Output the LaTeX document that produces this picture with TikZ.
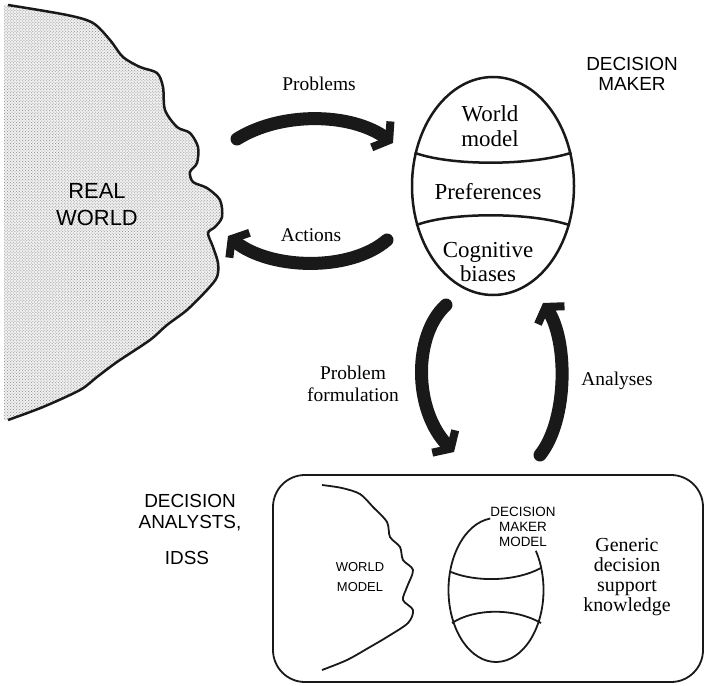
\documentclass[tikz,border=0pt]{standalone}
\usepackage{fontspec}
\setmainfont{Liberation Serif}
\setsansfont{Liberation Sans}
\usetikzlibrary{arrows.meta,shapes.geometric,patterns}
\begin{document}
\begin{tikzpicture}[x=1bp,y=-1bp,
  thickarrow/.style={draw=black!90, line width=13bp, line cap=round,
    -{Straight Barb[length=10bp,width=32bp,line width=8bp]}},
  serlab/.style={font=\fontsize{19.5}{22}\selectfont, align=center, inner sep=0pt},
  sertext/.style={font=\fontsize{23}{25}\selectfont, align=center, inner sep=0pt},
  sanslab/.style={font=\sffamily\fontsize{19}{21}\selectfont, align=center, inner sep=0pt},
  smallsans/.style={font=\sffamily\fontsize{13.5}{15}\selectfont, align=center, inner sep=0pt},
  outline/.style={draw=black!90, line width=2.5bp},
  thinline/.style={draw=black!90, line width=1.8bp}
]
\useasboundingbox (0,0) rectangle (708,686);

% ---------- REAL WORLD blob ----------
\fill[gray!12] (4,5) -- plot[smooth] coordinates {(8,5) (67,15) (93,23) (110,40) (123,57) (140,67) (157,73) (163,87) (165,110) (177,127) (190,133) (198,147) (197,163) (190,172) (193,182) (207,188) (220,200) (222,217) (215,227) (208,233) (213,247) (218,263) (217,277) (207,290) (187,310) (167,325) (150,340) (117,362) (97,377) (80,390) (43,407) (8,420)} -- (4,420) -- cycle;
\fill[pattern=crosshatch dots, pattern color=black!45] (4,5) -- plot[smooth] coordinates {(8,5) (67,15) (93,23) (110,40) (123,57) (140,67) (157,73) (163,87) (165,110) (177,127) (190,133) (198,147) (197,163) (190,172) (193,182) (207,188) (220,200) (222,217) (215,227) (208,233) (213,247) (218,263) (217,277) (207,290) (187,310) (167,325) (150,340) (117,362) (97,377) (80,390) (43,407) (8,420)} -- (4,420) -- cycle;
\draw[outline] plot[smooth] coordinates {(8,5) (67,15) (93,23) (110,40) (123,57) (140,67) (157,73) (163,87) (165,110) (177,127) (190,133) (198,147) (197,163) (190,172) (193,182) (207,188) (220,200) (222,217) (215,227) (208,233) (213,247) (218,263) (217,277) (207,290) (187,310) (167,325) (150,340) (117,362) (97,377) (80,390) (43,407) (8,420)};
\node[font=\sffamily\fontsize{22}{27}\selectfont, align=center, inner sep=0pt] (rw) at (97,205) {REAL\\WORLD};

% ---------- DECISION MAKER ----------
\node[sanslab, font=\sffamily\fontsize{19}{20}\selectfont] (dmtitle) at (632,74) {DECISION\\MAKER};
\node[ellipse, outline, minimum width=162bp, minimum height=218bp, inner sep=0pt] (dm) at (493,186) {};
\draw[outline] (dm.157) .. controls (450,166) and (530,166) .. (dm.23);
\draw[outline] (dm.207) .. controls (450,212) and (530,212) .. (dm.333);
\node[sertext] (wm) at (490,126) {World\\model};
\node[sertext] (pref) at (488,192) {Preferences};
\node[sertext] (cog) at (488,262) {Cognitive\\biases};

% ---------- arrows real world <-> decision maker ----------
\coordinate (pS) at (237,139);
\coordinate (pE) at (393,143);
\draw[thickarrow] (pS) .. controls (280,112) and (350,112) .. (pE);
\node[serlab] (problems) at (319,84) {Problems};

\coordinate (aS) at (387,240);
\coordinate (aE) at (228,236);
\draw[thickarrow] (aS) .. controls (350,272) and (270,270) .. (aE);
\node[serlab] (actions) at (311,235) {Actions};

% ---------- arrows decision maker <-> analysts ----------
\coordinate (fS) at (446,305);
\coordinate (fE) at (454,452);
\draw[thickarrow] (fS) .. controls (413,335) and (413,410) .. (fE);
\node[serlab] (pf) at (353,384) {Problem\\formulation};

\coordinate (nS) at (540,455);
\coordinate (nE) at (543,303);
\draw[thickarrow] (nS) .. controls (568,420) and (568,340) .. (nE);
\node[serlab] (an) at (617,381) {Analyses};

% ---------- DECISION ANALYSTS, IDSS ----------
\node[sanslab] (da) at (190,513) {DECISION\\ANALYSTS,};
\node[sanslab] (idss) at (187,558) {IDSS};

% ---------- bottom box ----------
\draw[thinline, rounded corners=32bp] (273,475) rectangle (703,682);

% world model line
\draw[thinline] plot[smooth] coordinates {(322,485) (342,488) (360,494) (373,507) (387,522) (390,537) (400,547) (403,560) (413,570) (407,587) (403,600) (413,610) (408,623) (387,637) (370,647) (347,660) (322,670)};
\node[smallsans, font=\sffamily\fontsize{13}{20}\selectfont] (wmodel) at (360,577) {WORLD\\MODEL};

% decision maker model
\coordinate (dmc) at (496,590);
\draw[thinline] (dmc) ++(263:47.5 and 72) arc[start angle=263, end angle=-33, x radius=47.5, y radius=72];
\draw[thinline] (451,572) .. controls (475,582) and (515,582) .. (541,568);
\draw[thinline] (452,623) .. controls (475,608) and (515,608) .. (541,623);
\node[smallsans] (dmm) at (523,527) {DECISION\\MAKER\\MODEL};

\node[font=\fontsize{20}{20}\selectfont, align=center, inner sep=0pt] (gen) at (627,577) {Generic\\decision\\support\\knowledge};
\end{tikzpicture}
\end{document}
